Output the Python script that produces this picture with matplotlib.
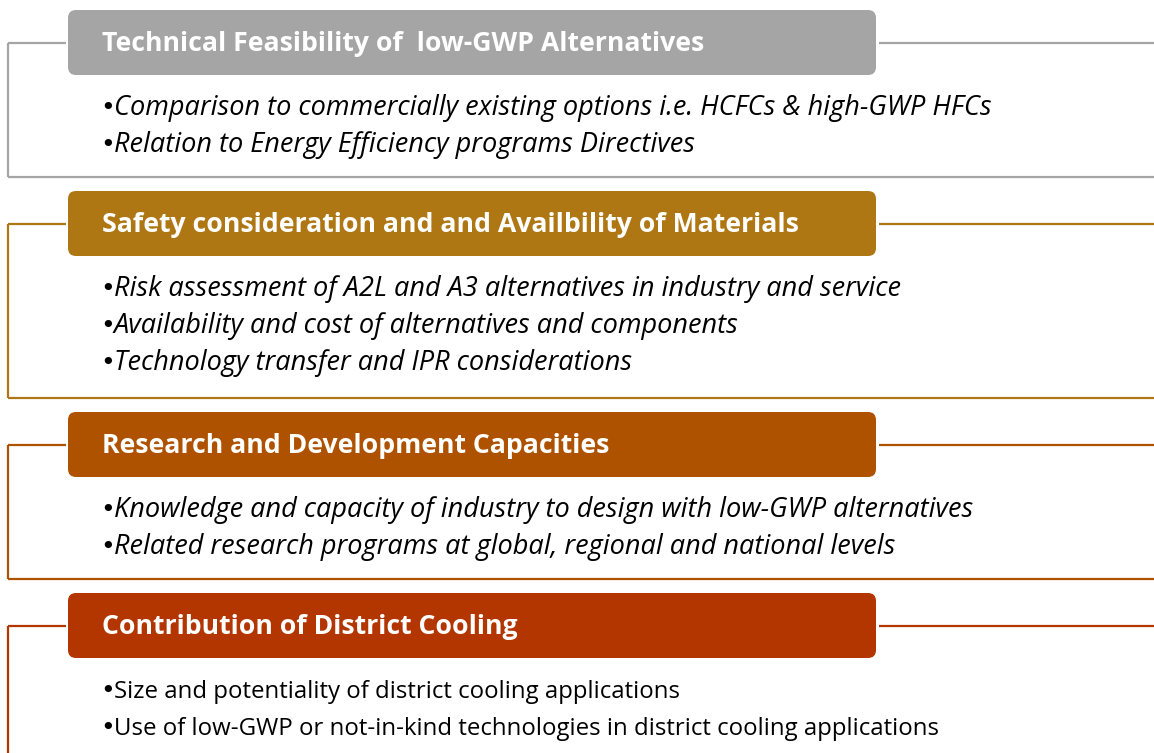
import matplotlib
matplotlib.use("Agg")
import matplotlib.pyplot as plt
from matplotlib.patches import FancyBboxPatch

titles = [
    "Technical Feasibility of  low-GWP Alternatives",
    "Safety consideration and and Availbility of Materials",
    "Research and Development Capacities",
    "Contribution of District Cooling",
]
colors = ["#A5A5A5", "#AF7713", "#AE5200", "#B33500"]
bullets = [
    ["Comparison to commercially existing options i.e. HCFCs & high-GWP HFCs",
     "Relation to Energy Efficiency programs Directives"],
    ["Risk assessment of A2L and A3 alternatives in industry and service",
     "Availability and cost of alternatives and components",
     "Technology transfer and IPR considerations"],
    ["Knowledge and capacity of industry to design with low-GWP alternatives",
     "Related research programs at global, regional and national levels"],
    ["Size and potentiality of district cooling applications",
     "Use of low-GWP or not-in-kind technologies in district cooling applications"],
]
italic = [True, True, True, False]

# layout (pixels)
W, H = 1154, 753
header_tops = [10, 191, 412, 593]
bottoms = [177, 398, 579, 800]
header_h = 65
box_x0, box_x1 = 68, 876
frame_x = 8
line_gap = 37

fig = plt.figure(figsize=(W / 100, H / 100), dpi=100)
ax = fig.add_axes([0, 0, 1, 1])
ax.set_xlim(0, W)
ax.set_ylim(H, 0)
ax.axis("off")

lw = 1.6
for i, (t, c) in enumerate(zip(titles, colors)):
    top = header_tops[i]
    mid = top + header_h / 2
    bot = bottoms[i]
    ax.plot([frame_x, 66], [mid, mid], color=c, lw=lw, solid_capstyle="butt")
    ax.plot([879, W + 5], [mid, mid], color=c, lw=lw, solid_capstyle="butt")
    ax.plot([frame_x, frame_x], [mid, bot], color=c, lw=lw, solid_capstyle="butt")
    ax.plot([frame_x, W + 5], [bot, bot], color=c, lw=lw, solid_capstyle="butt")
    r = 8
    box = FancyBboxPatch((box_x0 + r, top + r), box_x1 - box_x0 - 2 * r, header_h - 2 * r,
                         boxstyle=f"round,pad={r}", fc=c, ec="none", zorder=3)
    ax.add_patch(box)
    ax.text(102, top + 41, t, color="white", fontsize=19.2, fontweight="bold",
            family="Open Sans", va="baseline", ha="left", zorder=4)
    for j, b in enumerate(bullets[i]):
        yb = top + 105 + j * line_gap
        ax.text(100, yb, "\u2022", color="black", fontsize=18, family="DejaVu Sans",
                va="baseline", ha="left")
        ax.text(114, yb, b, color="black",
                fontsize=19.5 if italic[i] else 17.3, family="Open Sans",
                style="italic" if italic[i] else "normal", va="baseline", ha="left")

fig.savefig("out.png", dpi=100)
